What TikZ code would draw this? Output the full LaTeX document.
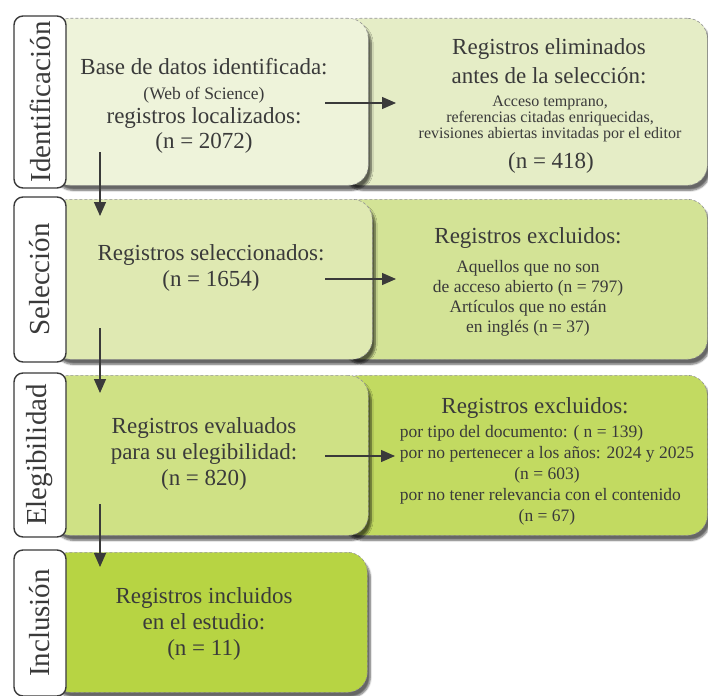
\documentclass[tikz,border=0pt]{standalone}
\usepackage{fontspec}
\setmainfont{Liberation Serif}
\usetikzlibrary{arrows.meta,shadows.blur}
\definecolor{txt}{RGB}{58,58,58}
\definecolor{greenA}{RGB}{238,243,218}
\definecolor{greenB}{RGB}{229,237,198}
\definecolor{greenC}{RGB}{223,233,178}
\definecolor{greenD}{RGB}{211,227,150}
\definecolor{greenE}{RGB}{207,225,133}
\definecolor{greenF}{RGB}{194,218,97}
\definecolor{greenG}{RGB}{183,212,67}
\begin{document}
\begin{tikzpicture}[x=1pt,y=-1pt,
			box/.style={rectangle,rounded corners=20pt,draw=gray!85,densely dashed,line width=0.6pt,
				blur shadow={shadow xshift=3pt,shadow yshift=-5pt,shadow blur steps=6,shadow opacity=60},
				anchor=north west,inner sep=0pt},
			tab/.style={rectangle,rounded corners=9pt,draw=txt,line width=1.4pt,fill=white,rotate=90,
				minimum height=52pt,inner sep=0pt,text=txt,font=\fontsize{29}{30}\selectfont},
			big/.style={align=center,text=txt,font=\fontsize{23}{26}\selectfont},
			small/.style={align=center,text=txt,font=\fontsize{17.5}{20}\selectfont},
			arr/.style={draw=txt,line width=1.3pt,-{Triangle[length=14pt,width=12pt]}}]
\useasboundingbox (0,0) rectangle (708,695);
\node[box,fill=greenB,minimum width=367pt,minimum height=167pt] (R1) at (340,18) {};
\node[box,fill=greenD,minimum width=367pt,minimum height=160pt] (R2) at (340,199) {};
\node[box,fill=greenF,minimum width=367pt,minimum height=160pt] (R3) at (340,375) {};
\node[box,fill=greenA,minimum width=318pt,minimum height=167pt] (L1) at (50,18) {};
\node[box,fill=greenC,minimum width=322pt,minimum height=160pt] (L2) at (50,199) {};
\node[box,fill=greenE,minimum width=318pt,minimum height=160pt] (L3) at (50,375) {};
\node[box,fill=greenG,minimum width=317pt,minimum height=140pt] (L4) at (50,552) {};
\node[tab,minimum width=172pt] (T1) at (40,102) {Identificación};
\node[tab,minimum width=165pt] (T2) at (40,279.5) {Selección};
\node[tab,minimum width=164pt] (T3) at (40,455) {Elegibilidad};
\node[tab,minimum width=146pt] (T4) at (40,623) {Inclusión};
% texto de las cajas
\node[big,font=\fontsize{23}{24.5}\selectfont] (LT1) at (204,106)
	{Base de datos identificada:\\{\fontsize{17.5}{20}\selectfont (Web of Science)}\\registros localizados:\\(n = 2072)};
\node[big] (LT2) at (211,268) {Registros seleccionados:\\(n = 1654)};
\node[big] (LT3) at (204,454) {Registros evaluados\\para su elegibilidad:\\(n = 820)};
\node[big] (LT4) at (204,624) {Registros incluidos\\en el estudio:\\(n = 11)};
\node[big,font=\fontsize{23}{29}\selectfont] (RT1) at (549,61) {Registros eliminados\\antes de la selección:};
\node[text=txt,align=center,font=\fontsize{16}{16}\selectfont] (RS1) at (550,119)
	{Acceso temprano,\\referencias citadas enriquecidas,\\revisiones abiertas invitadas por el editor};
\node[big] (RN1) at (551,163) {(n = 418)};
\node[big] (RT2) at (528,238) {Registros excluidos:};
\node[small] (RS2) at (528,298)
	{Aquellos que no son\\de acceso abierto (n = 797)\\Artículos que no están\\en inglés (n = 37)};
\node[big] (RT3) at (535,408) {Registros excluidos:};
\node[text=txt,font=\fontsize{17.5}{21}\selectfont] (RS3) at (547,475)
	{\begin{tabular}{@{}l@{}}
	por tipo del documento: ( n = 139)\\
	por no pertenecer a los años: 2024 y 2025\\
	\multicolumn{1}{@{}c@{}}{(n = 603)}\\
	por no tener relevancia con el contenido\\
	\multicolumn{1}{@{}c@{}}{(n = 67)}
	\end{tabular}};
\coordinate (D1) at (100,152);
\coordinate (D2) at (100,216);
\coordinate (D3) at (100,328);
\coordinate (D4) at (100,393);
\coordinate (D5) at (100,504);
\coordinate (D6) at (100,567);
\coordinate (H1) at (325,103);
\coordinate (H2) at (396,103);
\coordinate (H3) at (325,279);
\coordinate (H4) at (396,279);
\coordinate (H5) at (325,456);
\coordinate (H6) at (395,456);
\draw[arr] (D1) -- (D2);
\draw[arr] (D3) -- (D4);
\draw[arr] (D5) -- (D6);
\draw[arr] (H1) -- (H2);
\draw[arr] (H3) -- (H4);
\draw[arr] (H5) -- (H6);
\end{tikzpicture}
\end{document}
